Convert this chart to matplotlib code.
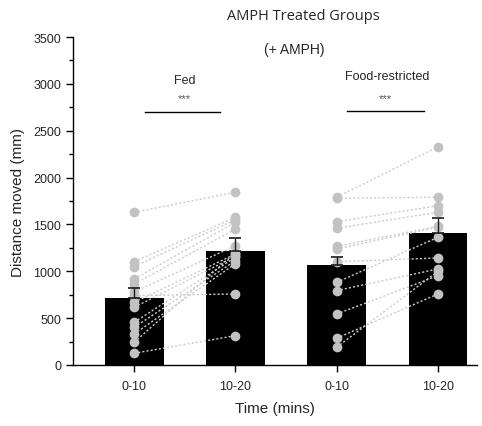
import matplotlib
matplotlib.use("Agg")
import matplotlib.pyplot as plt
from matplotlib.ticker import MultipleLocator

plt.rcParams["font.family"] = ["Liberation Sans", "DejaVu Sans"]

# --- data ------------------------------------------------------------------------
tick_labels = ["0-10", "10-20", "0-10", "10-20"]
bar_means = [715, 1220, 1065, 1408]
bar_err_top = [820, 1355, 1150, 1568]

fed_pre = [1630, 1103, 1050, 918, 864, 780, 740, 669, 616, 456, 402, 331, 242, 125]
fed_post = [1843, 1576, 1550, 1523, 1451, 1273, 758, 1185, 1160, 1149, 1113, 1080, 1200, 313]
fr_pre = [1790, 1780, 1530, 1459, 1267, 1238, 1102, 882, 794, 544, 285, 189]
fr_post = [2327, 1790, 1700, 1630, 1480, 1470, 1142, 1363, 1025, 953, 758, 1000]

GREY_PT, GREY_LN = "#c2c2c2", "#cccccc"
TXT = "#262626"

fig = plt.figure(figsize=(4.82, 4.27), dpi=100)
ax = fig.add_axes([0.1515, 0.1429, 0.838, 0.768])

xs = [1, 2, 3, 4]
ax.bar(xs, bar_means, width=0.58, color="black", zorder=2)

for x0, pre, post in ((1, fed_pre, fed_post), (3, fr_pre, fr_post)):
    for a, b in zip(pre, post):
        ax.plot([x0, x0 + 1], [a, b], ls=(0, (1.5, 1.5)), color=GREY_LN, lw=1, zorder=3)
    ax.plot([x0] * len(pre), pre, "o", ms=7, color=GREY_PT, mec="none", zorder=4)
    ax.plot([x0 + 1] * len(post), post, "o", ms=7, color=GREY_PT, mec="none", zorder=4)

for x, m, t in zip(xs, bar_means, bar_err_top):
    ax.errorbar(x, m, yerr=[[0], [t - m]], color="#1a1a1a", lw=1, capsize=4, capthick=1.2, zorder=5)

# significance annotations
ax.plot([1.11, 1.85], [2700, 2700], color="black", lw=1)
ax.text(1.5, 2790, "***", ha="center", va="bottom", fontsize=8, color="#555555")
ax.text(1.5, 3040, "Fed", ha="center", va="center", fontsize=9, color=TXT)
ax.plot([3.1, 3.86], [2710, 2710], color="black", lw=1)
ax.text(3.48, 2800, "***", ha="center", va="bottom", fontsize=8, color="#555555")
ax.text(3.5, 3080, "Food-restricted", ha="center", va="center", fontsize=9, color=TXT)
ax.text(2.58, 3370, "(+ AMPH)", ha="center", va="center", fontsize=10, color=TXT)
fig.text(0.63, 0.962, "AMPH Treated Groups", ha="center", va="center", fontsize=10.5,
         color=TXT, family=["Open Sans", "DejaVu Sans"])

ax.set_xlim(0.396, 4.386)
ax.set_ylim(0, 3500)
ax.set_xticks(xs)
ax.set_xticklabels(tick_labels, fontsize=9, color=TXT)
ax.yaxis.set_major_locator(MultipleLocator(500))
ax.yaxis.set_minor_locator(MultipleLocator(250))
ax.tick_params(axis="y", labelsize=9, labelcolor=TXT, length=5, width=1)
ax.tick_params(axis="y", which="minor", length=3, width=1)
ax.tick_params(axis="x", length=5, width=1, pad=6)
for s in ("top", "right"):
    ax.spines[s].set_visible(False)
for s in ("left", "bottom"):
    ax.spines[s].set_linewidth(1)
ax.set_ylabel("Distance moved (mm)", fontsize=11, color=TXT, labelpad=6)
ax.set_xlabel("Time (mins)", fontsize=11, color=TXT, labelpad=6)

fig.savefig("out.png", dpi=100)
